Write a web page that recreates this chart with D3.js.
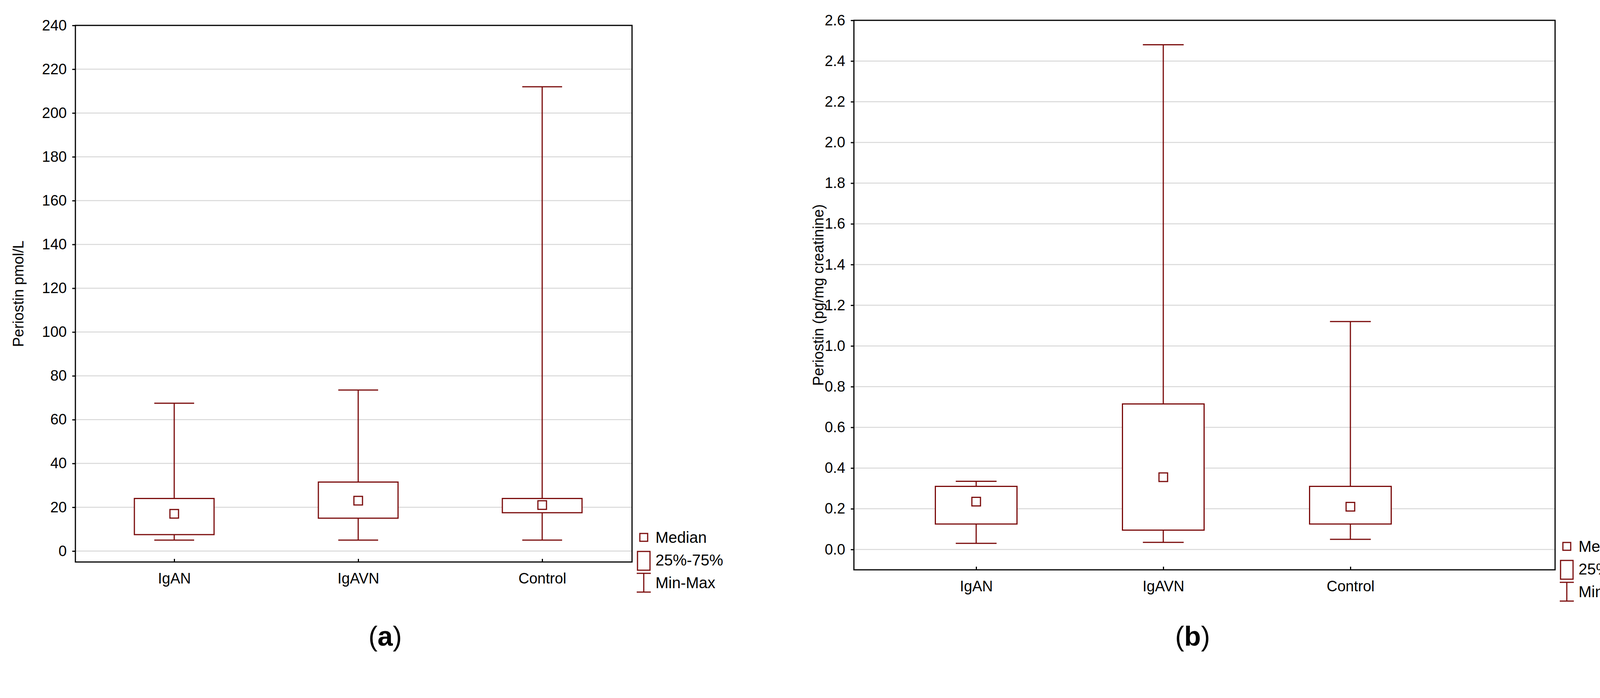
<!DOCTYPE html>
<html><head><meta charset="utf-8">
<script src="https://cdn.jsdelivr.net/npm/d3@7"></script>
<style>body{margin:0;background:#fff}text{font-family:"Liberation Sans",Arial,sans-serif}</style>
</head><body>
<svg id="chart" width="4302" height="1786"></svg>
<script>
// groups and summary stats
const groups = ["IgAN", "IgAVN", "Control"];
const minA = [5, 5, 5], q1A = [7.5, 15, 17.5], medA = [17, 23, 21], q3A = [24, 31.5, 24], maxA = [67.5, 73.5, 212];
const minB = [0.03, 0.035, 0.05], q1B = [0.125, 0.095, 0.125], medB = [0.235, 0.355, 0.21], q3B = [0.31, 0.715, 0.31], maxB = [0.335, 2.48, 1.12];
const ticksA = d3.range(0, 241, 20), ticksB = d3.range(0, 2.61, 0.2);

const col = "#7b0c0c";
const svg = d3.select("#chart");

function panel(o) {
  const g = svg.append("g");
  const x = d3.scalePoint().domain(groups).range(o.xr);
  const y = d3.scaleLinear().domain(o.dom).range([o.y1, o.y0]);
  const bw = o.bw;
  // grid
  g.selectAll(".grid").data(o.ticks).join("line")
    .attr("x1", o.x0).attr("x2", o.x1).attr("y1", d => y(d)).attr("y2", d => y(d))
    .attr("stroke", "#d8d8d8").attr("stroke-width", 2.5);
  // frame
  g.append("rect").attr("x", o.x0).attr("y", o.y0).attr("width", o.x1 - o.x0).attr("height", o.y1 - o.y0)
    .attr("fill", "none").attr("stroke", "#000").attr("stroke-width", 3);
  // axes
  g.append("g").attr("transform", `translate(${o.x0},0)`)
    .call(d3.axisLeft(y).tickValues(o.ticks).tickFormat(o.fmt).tickSize(8).tickPadding(14))
    .call(a => a.select(".domain").remove())
    .call(a => a.selectAll("text").attr("font-size", 38).attr("fill", "#000"))
    .call(a => a.selectAll("line").attr("stroke-width", 3));
  g.append("g").attr("transform", `translate(0,${o.y1})`)
    .call(d3.axisBottom(x).tickSize(-8).tickPadding(28))
    .call(a => a.select(".domain").remove())
    .call(a => a.selectAll("text").attr("font-size", 38).attr("fill", "#000"))
    .call(a => a.selectAll("line").attr("stroke-width", 3));
  // boxes
  const d = groups.map((k, i) => ({k, mn: o.mn[i], q1: o.q1[i], md: o.md[i], q3: o.q3[i], mx: o.mx[i]}));
  const b = g.selectAll(".box").data(d).join("g").attr("stroke", col).attr("fill", "none").attr("stroke-width", 3);
  b.append("line").attr("x1", e => x(e.k)).attr("x2", e => x(e.k)).attr("y1", e => y(e.q3)).attr("y2", e => y(e.mx));
  b.append("line").attr("x1", e => x(e.k)).attr("x2", e => x(e.k)).attr("y1", e => y(e.mn)).attr("y2", e => y(e.q1));
  b.append("line").attr("x1", e => x(e.k) - bw / 4).attr("x2", e => x(e.k) + bw / 4).attr("y1", e => y(e.mx)).attr("y2", e => y(e.mx));
  b.append("line").attr("x1", e => x(e.k) - bw / 4).attr("x2", e => x(e.k) + bw / 4).attr("y1", e => y(e.mn)).attr("y2", e => y(e.mn));
  b.append("rect").attr("x", e => x(e.k) - bw / 2).attr("width", bw).attr("y", e => y(e.q3)).attr("height", e => y(e.q1) - y(e.q3)).attr("fill", "#fff");
  b.append("rect").attr("x", e => x(e.k) - 11).attr("y", e => y(e.md) - 11).attr("width", 22).attr("height", 22).attr("fill", "#fff");
  // y label
  g.append("text").attr("transform", `translate(${o.lblx},${(o.y0 + o.y1) / 2}) rotate(-90)`)
    .attr("text-anchor", "middle").attr("font-size", 38).text(o.label);
  // legend
  const lx = o.x1 + 30, ly = o.ly;
  const lg = g.append("g").attr("stroke", col).attr("fill", "none").attr("stroke-width", 3);
  lg.append("rect").attr("x", lx - 10).attr("y", ly - 10).attr("width", 20).attr("height", 20);
  lg.append("rect").attr("x", lx - 16).attr("y", ly + 36).attr("width", 32).attr("height", 48);
  lg.append("line").attr("x1", lx).attr("x2", lx).attr("y1", ly + 92).attr("y2", ly + 140);
  lg.append("line").attr("x1", lx - 18).attr("x2", lx + 18).attr("y1", ly + 92).attr("y2", ly + 92);
  lg.append("line").attr("x1", lx - 18).attr("x2", lx + 18).attr("y1", ly + 140).attr("y2", ly + 140);
  ["Median", "25%-75%", "Min-Max"].forEach((t, i) =>
    g.append("text").attr("x", lx + 30).attr("y", ly + 14 + i * 58).attr("font-size", 40).text(t));
  // caption
  const c = g.append("text").attr("x", o.capx).attr("y", 1652).attr("text-anchor", "middle")
    .attr("font-size", 70).attr("font-family", "Liberation Serif, serif");
  c.append("tspan").text("(");
  c.append("tspan").attr("font-weight", "bold").text(o.cap);
  c.append("tspan").text(")");
}

panel({x0: 193, x1: 1618, y0: 65, y1: 1438, xr: [446, 1388], dom: [-5, 240], bw: 204, ticks: ticksA, fmt: d3.format("d"),
  mn: minA, q1: q1A, md: medA, q3: q3A, mx: maxA, label: "Periostin pmol/L", cap: "a", lblx: 60, ly: 1375, capx: 986});
panel({x0: 2186, x1: 3981, y0: 52, y1: 1458, xr: [2499, 3457], dom: [-0.1, 2.6], bw: 209, ticks: ticksB, fmt: d3.format(".1f"),
  mn: minB, q1: q1B, md: medB, q3: q3B, mx: maxB, label: "Periostin (pg/mg creatinine)", cap: "b", lblx: 2108, ly: 1398, capx: 3053});
</script>
</body></html>
